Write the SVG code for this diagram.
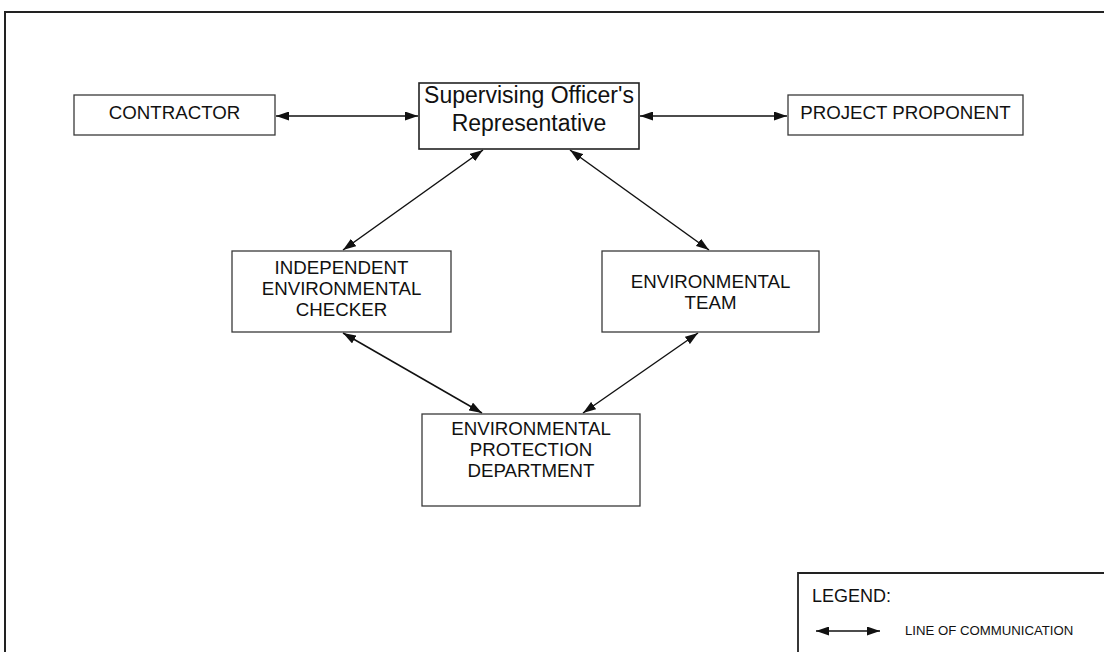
<svg xmlns="http://www.w3.org/2000/svg" width="1104" height="652" viewBox="0 0 1104 652">
<style>
.box{fill:#fff;stroke:#3a3a3a;stroke-width:1.3}
.sbox{fill:#fff;stroke:#222;stroke-width:1.6}
.t{font-family:"Liberation Sans",Arial,sans-serif;font-size:18.7px;fill:#111;text-anchor:middle}
.ts{font-family:"Liberation Sans",Arial,sans-serif;font-size:23px;fill:#111;text-anchor:middle}
.conn line{stroke:#111;stroke-width:1.5;marker-start:url(#ah);marker-end:url(#ah)}
</style>
<defs>
<marker id="ah" viewBox="0 0 13 9" refX="13" refY="4.5" markerWidth="13" markerHeight="9" markerUnits="userSpaceOnUse" orient="auto-start-reverse">
<path d="M0,0 L13,4.5 L0,9 Z" fill="#111"/>
</marker>
</defs>
<rect width="1104" height="652" fill="#fff"/>
<g id="frame">
<path d="M5,652 V12 H1104" fill="none" stroke="#222" stroke-width="2"/>
</g>
<g class="conn" id="connectors">
<line x1="276" y1="116" x2="418" y2="116"/>
<line x1="640" y1="116" x2="787" y2="116"/>
<line x1="483" y1="150" x2="343" y2="250"/>
<line x1="570" y1="150" x2="709" y2="250"/>
<line x1="343" y1="333" x2="482" y2="413"/>
<line x1="698" y1="333" x2="583" y2="413"/>
</g>
<g id="contractor">
<rect class="box" x="74" y="95" width="201" height="40"/>
<text class="t" x="174.5" y="119">CONTRACTOR</text>
</g>
<g id="supervising">
<rect class="sbox" x="419" y="83" width="220" height="66"/>
<text class="ts" x="529" y="103">Supervising Officer's</text>
<text class="ts" x="529" y="131">Representative</text>
</g>
<g id="proponent">
<rect class="box" x="788" y="95" width="235" height="40"/>
<text class="t" x="905.5" y="119">PROJECT PROPONENT</text>
</g>
<g id="iec">
<rect class="box" x="232" y="251" width="219" height="81"/>
<text class="t" x="341.5" y="274">INDEPENDENT</text>
<text class="t" x="341.5" y="295">ENVIRONMENTAL</text>
<text class="t" x="341.5" y="316">CHECKER</text>
</g>
<g id="et">
<rect class="box" x="602" y="251" width="217" height="81"/>
<text class="t" x="710.5" y="288">ENVIRONMENTAL</text>
<text class="t" x="710.5" y="309">TEAM</text>
</g>
<g id="epd">
<rect class="box" x="422" y="414" width="218" height="92"/>
<text class="t" x="531" y="435">ENVIRONMENTAL</text>
<text class="t" x="531" y="456">PROTECTION</text>
<text class="t" x="531" y="477">DEPARTMENT</text>
</g>
<g id="legend">
<path d="M798,652 V573 H1104" fill="none" stroke="#222" stroke-width="1.8"/>
<text x="812" y="602" style="font-family:'Liberation Sans',Arial,sans-serif;font-size:18px;fill:#111">LEGEND:</text>
<line x1="816" y1="631" x2="880" y2="631" stroke="#111" stroke-width="1.5" marker-start="url(#ah)" marker-end="url(#ah)"/>
<text x="905" y="635" style="font-family:'Liberation Sans',Arial,sans-serif;font-size:13.2px;fill:#111">LINE OF COMMUNICATION</text>
</g>
</svg>
